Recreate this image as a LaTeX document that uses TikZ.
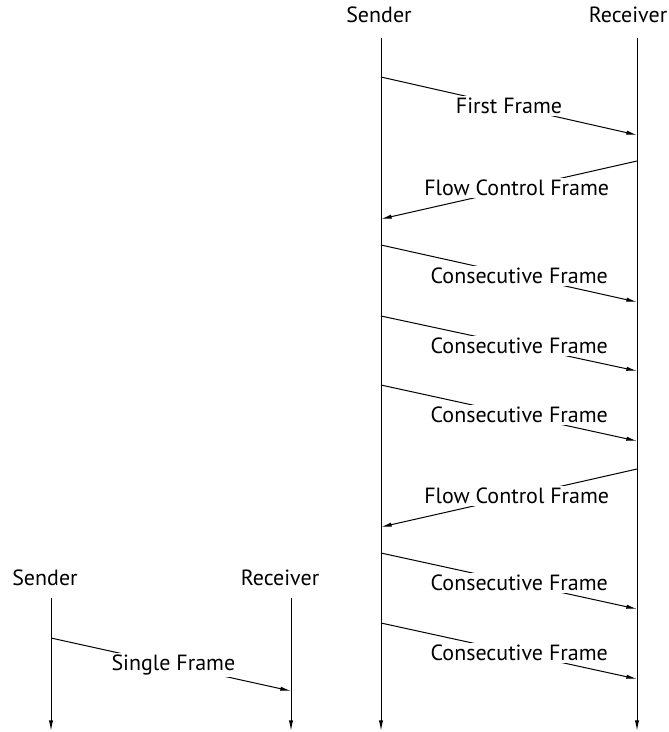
\documentclass[tikz,border=0pt]{standalone}
\usepackage{fontspec}
\setmainfont{PT Sans}
\usetikzlibrary{arrows.meta}

\tikzset{
  party/.style={font=\fontsize{16.5}{18}\selectfont, inner sep=1pt},
  lifeline/.style={line width=0.75pt, -{Latex[length=8pt,width=3.2pt]}},
  msg/.style={line width=0.75pt, -{Latex[length=8pt,width=3.2pt]}},
  msglabel/.style={fill=white, inner sep=1.5pt, font=\fontsize{16.5}{18}\selectfont}
}

\begin{document}
\begin{tikzpicture}[x=0.75pt,y=0.75pt,yscale=-1,xscale=1]
\useasboundingbox (0,0) rectangle (668,732);

% segmented transfer
\node[party] (snd) at (379,15) {Sender};
\node[party] (rcv) at (628,15) {Receiver};
\coordinate (sndtop) at (381,38);
\coordinate (sndend) at (381,731);
\coordinate (rcvtop) at (637,38);
\coordinate (rcvend) at (637,731);
\draw[lifeline] (sndtop) -- (sndend);
\draw[lifeline] (rcvtop) -- (rcvend);

% frames: y at sender, y at receiver, direction, label position, text
\foreach \i/\ys/\yr/\dir/\p/\txt in {
    1/77/135/1/0.50/First Frame,
    2/219/161/0/0.47/Flow Control Frame,
    3/245/302/1/0.54/Consecutive Frame,
    4/316/371/1/0.54/Consecutive Frame,
    5/385/441/1/0.54/Consecutive Frame,
    6/527/469/0/0.47/Flow Control Frame,
    7/553/609/1/0.54/Consecutive Frame,
    8/623/679/1/0.54/Consecutive Frame}{
  \coordinate (s\i) at (381,\ys);
  \coordinate (r\i) at (637,\yr);
  \ifnum\dir=1
    \draw[msg] (s\i) -- node[msglabel,pos=\p] {\txt} (r\i);
  \else
    \draw[msg] (r\i) -- node[msglabel,pos=\p] {\txt} (s\i);
  \fi
}

% single frame transfer
\node[party] (sndb) at (45,578) {Sender};
\node[party] (rcvb) at (280,578) {Receiver};
\coordinate (sndbtop) at (51,598);
\coordinate (sndbend) at (51,731);
\coordinate (rcvbtop) at (291,598);
\coordinate (rcvbend) at (291,731);
\draw[lifeline] (sndbtop) -- (sndbend);
\draw[lifeline] (rcvbtop) -- (rcvbend);
\coordinate (sb) at (51,638);
\coordinate (rb) at (291,691);
\draw[msg] (sb) -- node[msglabel,pos=0.51] {Single Frame} (rb);
\end{tikzpicture}
\end{document}
